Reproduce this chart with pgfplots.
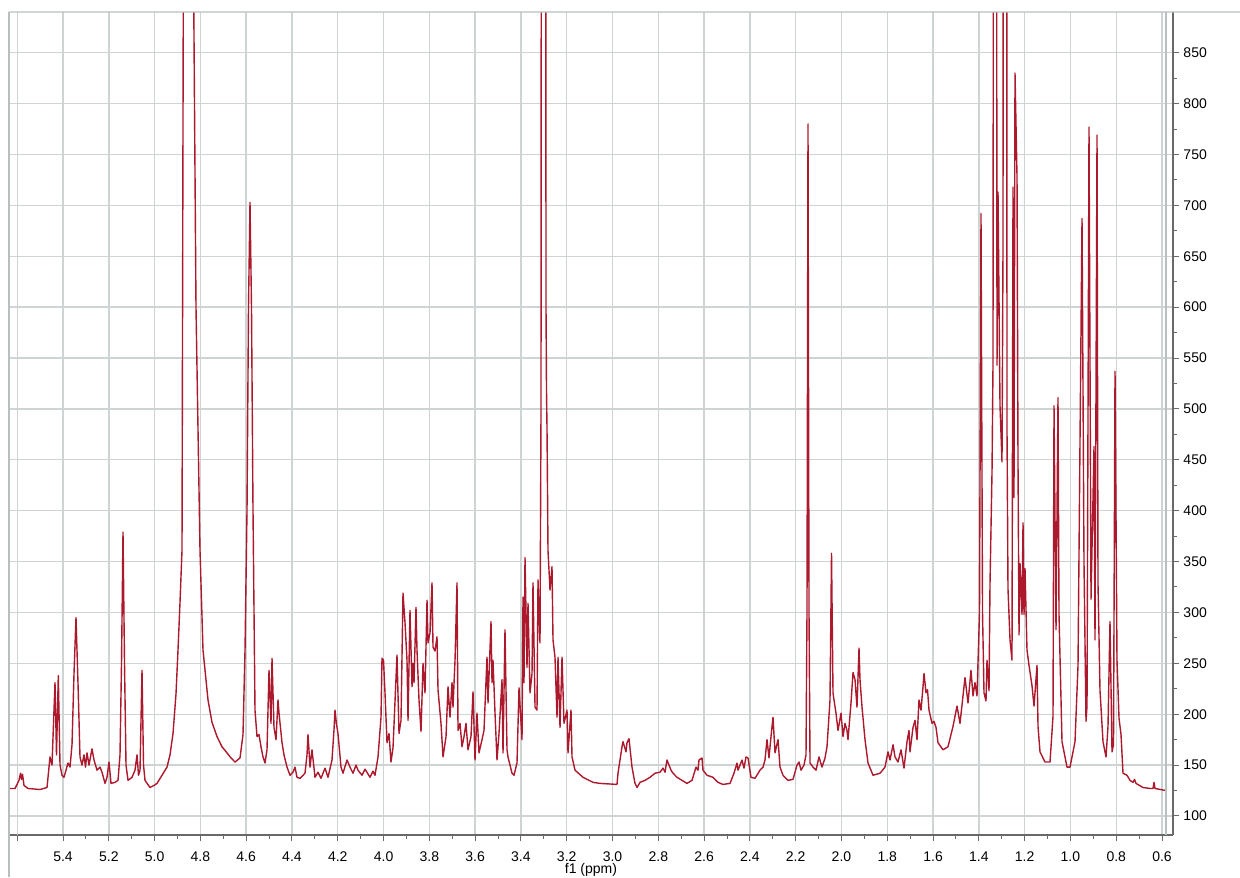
\documentclass[border=0pt]{standalone}
\usepackage{fontspec}
\setmainfont{Liberation Sans}
\usepackage{pgfplots}
\pgfplotsset{compat=1.18}
\definecolor{spec}{RGB}{172,24,44}
\definecolor{gridc}{RGB}{206,211,211}
\definecolor{framec}{RGB}{185,190,190}
\definecolor{axc}{RGB}{105,105,105}

\begin{document}
\begin{tikzpicture}
\path[use as bounding box] (-4.5pt,-21pt) rectangle (615.5pt,417.5pt);
\begin{axis}[
  name=ax,
  at={(0,0)}, anchor=south west,
  scale only axis, width=582pt, height=411.5pt,
  x dir=reverse, xmin=0.552, xmax=5.636, ymin=81.3, ymax=890,
  axis x line*=bottom, axis y line*=right,
  axis line style={axc, line width=0.6pt, -},
  xtick={0.6,0.8,1.0,1.2,1.4,1.6,1.8,2.0,2.2,2.4,2.6,2.8,3.0,3.2,3.4,3.6,3.8,4.0,4.2,4.4,4.6,4.8,5.0,5.2,5.4},
  extra x ticks={5.6}, extra x tick labels={}, extra x tick style={grid=major},
  minor x tick num=1,
  ytick={100,150,200,250,300,350,400,450,500,550,600,650,700,750,800,850},
  minor y tick num=1,
  grid=major, major grid style={gridc, line width=0.7pt},
  tick align=outside, major tick length=3.2pt, minor tick length=2pt,
  tick style={axc, line width=0.5pt},
  font=\fontsize{7}{8}\selectfont,
  /pgf/number format/assume math mode=true,
  xticklabel style={/pgf/number format/.cd, fixed, fixed zerofill, precision=1, /tikz/.cd, yshift=-1.5pt},
  yticklabel style={xshift=-1.5pt},
  xlabel={f1 (ppm)},
  xlabel style={at={(axis description cs:0.5,0)}, anchor=center, yshift=-17.3pt},
]
\addplot[spec, line width=0.7pt, line join=round] coordinates {
(5.6359,127) (5.6097,127) (5.5922,135) (5.5857,142) (5.5813,136) (5.5769,141)
(5.5704,130) (5.5529,127) (5.5005,126) (5.4699,128) (5.4568,158) (5.4481,150)
(5.4350,231) (5.4284,160) (5.4206,238) (5.4131,150) (5.4044,140) (5.3957,138)
(5.3869,145) (5.3782,152) (5.3695,148) (5.3607,170) (5.3520,240) (5.3433,295)
(5.3345,230) (5.3258,158) (5.3171,150) (5.3083,160) (5.3018,148) (5.2952,162)
(5.2865,150) (5.2734,166) (5.2646,155) (5.2515,145) (5.2384,148) (5.2297,143)
(5.2166,132) (5.2079,138) (5.1991,153) (5.1904,132) (5.1729,133) (5.1598,135)
(5.1511,160) (5.1445,250) (5.1380,379) (5.1314,250) (5.1249,150) (5.1161,135)
(5.0987,138) (5.0856,145) (5.0768,160) (5.0703,140) (5.0637,145) (5.0550,243)
(5.0484,150) (5.0419,135) (5.0201,128) (5.0026,130) (4.9895,132) (4.9676,140)
(4.9458,148) (4.9327,160) (4.9196,181) (4.9065,220) (4.8978,263) (4.8890,310)
(4.8803,361) (4.8737,1000) (4.8541,3000) (4.8323,1000) (4.8192,600) (4.8017,361)
(4.7886,263) (4.7667,214) (4.7493,192) (4.7274,178) (4.7056,168) (4.6838,162)
(4.6663,157) (4.6488,153) (4.6270,157) (4.6139,180) (4.6051,263) (4.5964,400)
(4.5899,600) (4.5833,703) (4.5768,600) (4.5702,400) (4.5615,204) (4.5527,178)
(4.5440,180) (4.5353,168) (4.5265,158) (4.5178,152) (4.5091,165) (4.5003,243)
(4.4916,191) (4.4872,255) (4.4785,187) (4.4697,175) (4.4610,214) (4.4566,201)
(4.4435,172) (4.4348,160) (4.4217,148) (4.4086,140) (4.3955,143) (4.3868,148)
(4.3780,138) (4.3649,137) (4.3431,142) (4.3344,160) (4.3300,180) (4.3212,148)
(4.3125,165) (4.2994,138) (4.2863,143) (4.2732,137) (4.2557,147) (4.2426,138)
(4.2252,155) (4.2164,185) (4.2121,204) (4.2055,190) (4.1990,181) (4.1859,148)
(4.1771,142) (4.1596,155) (4.1465,148) (4.1334,142) (4.1203,150) (4.1116,145)
(4.0941,140) (4.0810,146) (4.0592,138) (4.0461,144) (4.0374,140) (4.0242,158)
(4.0111,197) (4.0068,255) (4.0002,253) (3.9937,221) (3.9849,172) (3.9762,181)
(3.9675,153) (3.9587,167) (3.9413,258) (3.9325,181) (3.9238,194) (3.9151,319)
(3.9063,290) (3.8976,253) (3.8932,194) (3.8845,302) (3.8757,227) (3.8714,250)
(3.8670,231) (3.8583,305) (3.8539,263) (3.8452,214) (3.8364,183) (3.8277,250)
(3.8190,221) (3.8102,312) (3.8059,270) (3.7971,280) (3.7884,329) (3.7840,266)
(3.7753,262) (3.7666,276) (3.7622,224) (3.7491,191) (3.7403,158) (3.7272,178)
(3.7185,227) (3.7098,197) (3.7010,231) (3.6967,207) (3.6879,253) (3.6792,329)
(3.6748,184) (3.6661,191) (3.6574,168) (3.6486,178) (3.6399,191) (3.6312,165)
(3.6181,178) (3.6093,222) (3.6006,155) (3.5919,201) (3.5831,162) (3.5700,175)
(3.5613,184) (3.5482,256) (3.5438,211) (3.5307,291) (3.5263,231) (3.5220,253)
(3.5132,201) (3.5045,155) (3.4958,181) (3.4827,234) (3.4783,162) (3.4696,283)
(3.4608,165) (3.4565,158) (3.4390,142) (3.4303,140) (3.4172,152) (3.4084,226)
(3.3953,175) (3.3909,315) (3.3866,231) (3.3822,354) (3.3735,246) (3.3691,309)
(3.3604,221) (3.3516,240) (3.3473,329) (3.3385,207) (3.3298,204) (3.3254,332)
(3.3167,270) (3.3123,500) (3.3101,1500) (3.3014,3000) (3.2927,1500) (3.2905,600)
(3.2883,518) (3.2861,480) (3.2818,361) (3.2730,322) (3.2643,345) (3.2599,273)
(3.2512,256) (3.2424,197) (3.2381,256) (3.2293,187) (3.2206,256) (3.2119,191)
(3.1988,204) (3.1944,162) (3.1813,204) (3.1769,158) (3.1638,145) (3.1289,138)
(3.0848,133) (3.0546,132) (2.9804,131) (2.9760,142) (2.9586,168) (2.9542,173)
(2.9411,163) (2.9367,172) (2.9280,176) (2.9149,148) (2.9018,132) (2.8930,128)
(2.8799,133) (2.8581,135) (2.8363,138) (2.8144,142) (2.7926,143) (2.7795,147)
(2.7707,143) (2.7620,155) (2.7533,150) (2.7445,145) (2.7358,142) (2.7183,138)
(2.6965,135) (2.6747,132) (2.6528,135) (2.6353,148) (2.6266,145) (2.6222,155)
(2.6091,157) (2.6048,145) (2.5873,140) (2.5611,138) (2.5393,133) (2.5174,131)
(2.4868,132) (2.4694,142) (2.4563,152) (2.4519,145) (2.4344,155) (2.4257,147)
(2.4170,158) (2.4082,157) (2.3951,138) (2.3777,137) (2.3558,145) (2.3427,148)
(2.3340,155) (2.3253,175) (2.3165,157) (2.3078,178) (2.2990,197) (2.2903,162)
(2.2772,175) (2.2685,148) (2.2554,140) (2.2335,135) (2.2117,136) (2.1942,150)
(2.1855,153) (2.1768,145) (2.1637,150) (2.1549,160) (2.1506,300) (2.1462,780)
(2.1418,300) (2.1374,152) (2.1243,148) (2.1112,145) (2.0981,158) (2.0850,148)
(2.0719,157) (2.0632,168) (2.0501,214) (2.0435,358) (2.0370,221) (2.0326,214)
(2.0239,201) (2.0152,184) (2.0020,201) (1.9933,178) (1.9846,191) (1.9758,184)
(1.9715,175) (1.9584,211) (1.9496,241) (1.9409,234) (1.9322,207) (1.9234,265)
(1.9191,234) (1.9103,207) (1.8972,175) (1.8841,152) (1.8623,140) (1.8317,142)
(1.8099,148) (1.7968,163) (1.7880,155) (1.7749,170) (1.7662,158) (1.7531,153)
(1.7400,165) (1.7269,147) (1.7138,173) (1.7051,184) (1.7007,163) (1.6876,187)
(1.6788,194) (1.6701,175) (1.6614,214) (1.6526,204) (1.6439,227) (1.6395,240)
(1.6308,221) (1.6242,224) (1.6177,204) (1.6046,191) (1.5959,193) (1.5871,187)
(1.5784,172) (1.5566,165) (1.5347,168) (1.5129,188) (1.4954,208) (1.4823,191)
(1.4605,236) (1.4474,211) (1.4343,243) (1.4255,218) (1.4168,231) (1.4081,218)
(1.3971,300) (1.3906,692) (1.3840,300) (1.3775,221) (1.3688,213) (1.3644,253)
(1.3556,223) (1.3513,328) (1.3425,438) (1.3382,543) (1.3294,3000) (1.3207,543)
(1.3163,713) (1.3076,503) (1.2989,448) (1.2945,658) (1.2901,2500) (1.2858,1500)
(1.2814,2500) (1.2770,478) (1.2727,323) (1.2639,273) (1.2552,253) (1.2508,718)
(1.2465,413) (1.2421,830) (1.2333,728) (1.2290,448) (1.2246,278) (1.2202,348)
(1.2115,298) (1.2071,388) (1.2028,298) (1.1984,343) (1.1897,263) (1.1809,248)
(1.1678,228) (1.1591,208) (1.1460,248) (1.1416,188) (1.1329,163) (1.1111,153)
(1.0892,153) (1.0761,198) (1.0717,503) (1.0630,283) (1.0543,511) (1.0499,298)
(1.0368,173) (1.0150,148) (1.0019,148) (0.9800,173) (0.9669,248) (0.9582,468)
(0.9494,687) (0.9407,348) (0.9320,193) (0.9276,208) (0.9189,777) (0.9101,313)
(0.8970,463) (0.8927,273) (0.8839,769) (0.8796,328) (0.8708,223) (0.8577,173)
(0.8446,158) (0.8359,188) (0.8272,291) (0.8184,163) (0.8119,170) (0.8053,537)
(0.7966,253) (0.7878,196) (0.7791,180) (0.7704,142) (0.7529,140) (0.7398,135)
(0.7267,133) (0.7202,136) (0.7136,132) (0.6830,128) (0.6524,127) (0.6393,127)
(0.6350,133) (0.6306,127) (0.5826,125)
};
\end{axis}
% plot frame: top and left edges, and the inner right edge
\draw[framec, line width=0.7pt] (ax.north west) -- (615.5pt,411.5pt);
\draw[framec, line width=0.7pt] (ax.north west) -- (0,-21pt);
\draw[framec, line width=0.7pt] ([xshift=-3.5pt]ax.north east) -- ([xshift=-3.5pt]ax.south east);
\end{tikzpicture}
\end{document}
